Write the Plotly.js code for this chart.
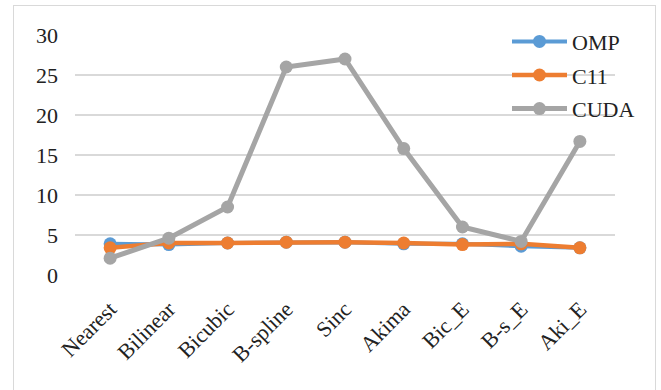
<!DOCTYPE html>
<html>
<head>
<meta charset="utf-8">
<script src="https://cdn.plot.ly/plotly-3.0.1.min.js"></script>
<style>
html,body{margin:0;padding:0;background:#fff;}
#frame{position:absolute;left:13px;top:5px;width:643px;height:400px;border:1px solid #d9d9d9;box-sizing:border-box;}
#chart{position:absolute;left:0;top:0;width:661px;height:390px;}
</style>
</head>
<body>
<div id="frame"></div>
<div id="chart"></div>
<script>
const categories = ["Nearest","Bilinear","Bicubic","B-spline","Sinc","Akima","Bic_E","B-s_E","Aki_E"];
const ompValues  = [3.9, 3.8, 4.0, 4.1, 4.1, 3.9, 3.9, 3.6, 3.4];
const c11Values  = [3.4, 4.0, 4.0, 4.1, 4.1, 4.0, 3.8, 3.9, 3.4];
const cudaValues = [2.1, 4.6, 8.5, 26.0, 27.0, 15.8, 6.0, 4.2, 16.7];
const yTicks = [0, 5, 10, 15, 20, 25, 30];

function series(name, vals, color, width, group) {
  return {
    type: 'scatter', mode: 'lines+markers', name: name,
    x: categories, y: vals, legendgroup: group,
    line: {color: color, width: width},
    marker: {color: color, size: 13}
  };
}

const data = [
  series('OMP', ompValues, '#5b9bd5', 4, 'a'),
  series('C11', c11Values, '#ed7d31', 4.5, 'b'),
  series('CUDA', cudaValues, '#a5a5a5', 5, 'c')
];

const fam = 'Liberation Serif, Times New Roman, serif';
const layout = {
  width: 661, height: 390,
  margin: {l: 75, r: 46, t: 35, b: 115},
  paper_bgcolor: 'rgba(0,0,0,0)',
  plot_bgcolor: 'rgba(0,0,0,0)',
  font: {family: fam, size: 20, color: '#222'},
  showlegend: true,
  legend: {
    x: 0.80, xanchor: 'left', y: 1.06, yanchor: 'top',
    bgcolor: 'rgba(0,0,0,0)',
    font: {family: fam, size: 22, color: '#222'},
    itemwidth: 55,
    tracegroupgap: 2
  },
  xaxis: {
    type: 'category', tickangle: -45, showgrid: false, zeroline: false,
    showline: false, ticks: '', ticklabelstandoff: 16,
    tickfont: {family: fam, size: 22}
  },
  yaxis: {
    range: [0, 30], tickvals: yTicks, showgrid: true, gridcolor: '#d9d9d9',
    gridwidth: 1.5, zeroline: false, showline: false, ticks: '',
    ticklabelstandoff: 16, tickfont: {family: fam, size: 22}
  }
};

Plotly.newPlot('chart', data, layout, {displayModeBar: false, staticPlot: true});
</script>
</body>
</html>
